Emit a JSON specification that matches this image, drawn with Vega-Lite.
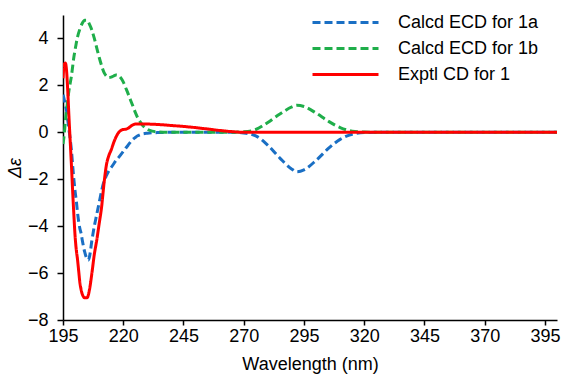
{
  "$schema": "https://vega.github.io/schema/vega-lite/v6.json",
  "width": 494,
  "height": 305,
  "autosize": {"type": "none"},
  "padding": {"left": 63, "top": 15, "right": 4, "bottom": 55},
  "config": {
    "view": {"stroke": null},
    "font": "Liberation Sans",
    "axis": {
      "labelFont": "Liberation Sans",
      "titleFont": "Liberation Sans",
      "labelFontSize": 18,
      "titleFontSize": 18,
      "titleFontWeight": "normal",
      "labelColor": "#000000",
      "titleColor": "#000000",
      "domainColor": "#000000",
      "domainWidth": 1.5,
      "tickColor": "#000000",
      "tickWidth": 1.5,
      "grid": false
    },
    "legend": {"labelFont": "Liberation Sans", "labelFontSize": 18, "labelColor": "#000000"}
  },
  "datasets": {
    "curves": [
      {"series": "Calcd ECD for 1a", "wl": 195, "de": 1.6},
      {"series": "Calcd ECD for 1a", "wl": 195.5, "de": 1.4},
      {"series": "Calcd ECD for 1a", "wl": 196, "de": 1.15},
      {"series": "Calcd ECD for 1a", "wl": 196.5, "de": 0.9},
      {"series": "Calcd ECD for 1a", "wl": 197, "de": 0.5},
      {"series": "Calcd ECD for 1a", "wl": 197.5, "de": 0.1},
      {"series": "Calcd ECD for 1a", "wl": 198, "de": -0.3},
      {"series": "Calcd ECD for 1a", "wl": 198.5, "de": -0.76},
      {"series": "Calcd ECD for 1a", "wl": 199, "de": -1.4},
      {"series": "Calcd ECD for 1a", "wl": 199.5, "de": -2.0},
      {"series": "Calcd ECD for 1a", "wl": 200, "de": -2.5},
      {"series": "Calcd ECD for 1a", "wl": 200.5, "de": -2.9},
      {"series": "Calcd ECD for 1a", "wl": 201, "de": -3.4},
      {"series": "Calcd ECD for 1a", "wl": 201.5, "de": -3.8},
      {"series": "Calcd ECD for 1a", "wl": 202, "de": -4.1},
      {"series": "Calcd ECD for 1a", "wl": 202.5, "de": -4.3},
      {"series": "Calcd ECD for 1a", "wl": 203, "de": -4.6},
      {"series": "Calcd ECD for 1a", "wl": 204, "de": -5.1},
      {"series": "Calcd ECD for 1a", "wl": 205, "de": -5.4},
      {"series": "Calcd ECD for 1a", "wl": 205.5, "de": -5.45},
      {"series": "Calcd ECD for 1a", "wl": 206, "de": -5.3},
      {"series": "Calcd ECD for 1a", "wl": 207, "de": -4.6},
      {"series": "Calcd ECD for 1a", "wl": 208, "de": -4.0},
      {"series": "Calcd ECD for 1a", "wl": 209, "de": -3.5},
      {"series": "Calcd ECD for 1a", "wl": 210, "de": -3.0},
      {"series": "Calcd ECD for 1a", "wl": 211, "de": -2.5},
      {"series": "Calcd ECD for 1a", "wl": 212, "de": -2.1},
      {"series": "Calcd ECD for 1a", "wl": 213, "de": -1.85},
      {"series": "Calcd ECD for 1a", "wl": 214, "de": -1.65},
      {"series": "Calcd ECD for 1a", "wl": 215, "de": -1.5},
      {"series": "Calcd ECD for 1a", "wl": 216, "de": -1.35},
      {"series": "Calcd ECD for 1a", "wl": 217, "de": -1.2},
      {"series": "Calcd ECD for 1a", "wl": 218, "de": -1.08},
      {"series": "Calcd ECD for 1a", "wl": 219, "de": -0.95},
      {"series": "Calcd ECD for 1a", "wl": 220, "de": -0.82},
      {"series": "Calcd ECD for 1a", "wl": 221, "de": -0.68},
      {"series": "Calcd ECD for 1a", "wl": 222, "de": -0.55},
      {"series": "Calcd ECD for 1a", "wl": 223, "de": -0.42},
      {"series": "Calcd ECD for 1a", "wl": 224, "de": -0.3},
      {"series": "Calcd ECD for 1a", "wl": 225, "de": -0.22},
      {"series": "Calcd ECD for 1a", "wl": 226, "de": -0.15},
      {"series": "Calcd ECD for 1a", "wl": 227, "de": -0.1},
      {"series": "Calcd ECD for 1a", "wl": 228, "de": -0.07},
      {"series": "Calcd ECD for 1a", "wl": 230, "de": -0.04},
      {"series": "Calcd ECD for 1a", "wl": 235, "de": -0.01},
      {"series": "Calcd ECD for 1a", "wl": 240, "de": 0},
      {"series": "Calcd ECD for 1a", "wl": 265, "de": 0},
      {"series": "Calcd ECD for 1a", "wl": 270, "de": -0.03},
      {"series": "Calcd ECD for 1a", "wl": 275, "de": -0.15},
      {"series": "Calcd ECD for 1a", "wl": 280, "de": -0.55},
      {"series": "Calcd ECD for 1a", "wl": 285, "de": -1.1},
      {"series": "Calcd ECD for 1a", "wl": 290, "de": -1.57},
      {"series": "Calcd ECD for 1a", "wl": 292, "de": -1.68},
      {"series": "Calcd ECD for 1a", "wl": 295, "de": -1.6},
      {"series": "Calcd ECD for 1a", "wl": 300, "de": -1.2},
      {"series": "Calcd ECD for 1a", "wl": 305, "de": -0.7},
      {"series": "Calcd ECD for 1a", "wl": 310, "de": -0.3},
      {"series": "Calcd ECD for 1a", "wl": 315, "de": -0.08},
      {"series": "Calcd ECD for 1a", "wl": 320, "de": -0.01},
      {"series": "Calcd ECD for 1a", "wl": 325, "de": 0},
      {"series": "Calcd ECD for 1a", "wl": 400, "de": 0},

      {"series": "Calcd ECD for 1b", "wl": 195, "de": -0.5},
      {"series": "Calcd ECD for 1b", "wl": 195.5, "de": -0.1},
      {"series": "Calcd ECD for 1b", "wl": 196, "de": 0.5},
      {"series": "Calcd ECD for 1b", "wl": 196.5, "de": 0.95},
      {"series": "Calcd ECD for 1b", "wl": 197, "de": 1.4},
      {"series": "Calcd ECD for 1b", "wl": 197.5, "de": 1.8},
      {"series": "Calcd ECD for 1b", "wl": 198, "de": 2.1},
      {"series": "Calcd ECD for 1b", "wl": 198.5, "de": 2.4},
      {"series": "Calcd ECD for 1b", "wl": 199, "de": 2.8},
      {"series": "Calcd ECD for 1b", "wl": 199.5, "de": 3.2},
      {"series": "Calcd ECD for 1b", "wl": 200, "de": 3.5},
      {"series": "Calcd ECD for 1b", "wl": 200.5, "de": 3.8},
      {"series": "Calcd ECD for 1b", "wl": 201, "de": 4.05},
      {"series": "Calcd ECD for 1b", "wl": 202, "de": 4.4},
      {"series": "Calcd ECD for 1b", "wl": 203, "de": 4.65},
      {"series": "Calcd ECD for 1b", "wl": 204, "de": 4.78},
      {"series": "Calcd ECD for 1b", "wl": 205, "de": 4.78},
      {"series": "Calcd ECD for 1b", "wl": 206, "de": 4.6},
      {"series": "Calcd ECD for 1b", "wl": 207, "de": 4.35},
      {"series": "Calcd ECD for 1b", "wl": 208, "de": 4.0},
      {"series": "Calcd ECD for 1b", "wl": 209, "de": 3.6},
      {"series": "Calcd ECD for 1b", "wl": 210, "de": 3.2},
      {"series": "Calcd ECD for 1b", "wl": 211, "de": 2.85},
      {"series": "Calcd ECD for 1b", "wl": 212, "de": 2.55},
      {"series": "Calcd ECD for 1b", "wl": 213, "de": 2.4},
      {"series": "Calcd ECD for 1b", "wl": 214, "de": 2.33},
      {"series": "Calcd ECD for 1b", "wl": 215, "de": 2.35},
      {"series": "Calcd ECD for 1b", "wl": 216, "de": 2.4},
      {"series": "Calcd ECD for 1b", "wl": 217, "de": 2.44},
      {"series": "Calcd ECD for 1b", "wl": 218, "de": 2.42},
      {"series": "Calcd ECD for 1b", "wl": 219, "de": 2.32},
      {"series": "Calcd ECD for 1b", "wl": 220, "de": 2.15},
      {"series": "Calcd ECD for 1b", "wl": 221, "de": 1.9},
      {"series": "Calcd ECD for 1b", "wl": 222, "de": 1.65},
      {"series": "Calcd ECD for 1b", "wl": 223, "de": 1.38},
      {"series": "Calcd ECD for 1b", "wl": 224, "de": 1.12},
      {"series": "Calcd ECD for 1b", "wl": 225, "de": 0.85},
      {"series": "Calcd ECD for 1b", "wl": 226, "de": 0.62},
      {"series": "Calcd ECD for 1b", "wl": 227, "de": 0.45},
      {"series": "Calcd ECD for 1b", "wl": 228, "de": 0.3},
      {"series": "Calcd ECD for 1b", "wl": 229, "de": 0.2},
      {"series": "Calcd ECD for 1b", "wl": 230, "de": 0.13},
      {"series": "Calcd ECD for 1b", "wl": 232, "de": 0.05},
      {"series": "Calcd ECD for 1b", "wl": 235, "de": 0.01},
      {"series": "Calcd ECD for 1b", "wl": 240, "de": 0},
      {"series": "Calcd ECD for 1b", "wl": 265, "de": 0},
      {"series": "Calcd ECD for 1b", "wl": 270, "de": 0.02},
      {"series": "Calcd ECD for 1b", "wl": 275, "de": 0.12},
      {"series": "Calcd ECD for 1b", "wl": 280, "de": 0.42},
      {"series": "Calcd ECD for 1b", "wl": 285, "de": 0.78},
      {"series": "Calcd ECD for 1b", "wl": 290, "de": 1.08},
      {"series": "Calcd ECD for 1b", "wl": 292, "de": 1.15},
      {"series": "Calcd ECD for 1b", "wl": 295, "de": 1.1},
      {"series": "Calcd ECD for 1b", "wl": 300, "de": 0.82},
      {"series": "Calcd ECD for 1b", "wl": 305, "de": 0.48},
      {"series": "Calcd ECD for 1b", "wl": 310, "de": 0.2},
      {"series": "Calcd ECD for 1b", "wl": 315, "de": 0.05},
      {"series": "Calcd ECD for 1b", "wl": 320, "de": 0.01},
      {"series": "Calcd ECD for 1b", "wl": 325, "de": 0},
      {"series": "Calcd ECD for 1b", "wl": 400, "de": 0},

      {"series": "Exptl CD for 1", "wl": 195, "de": 2.3},
      {"series": "Exptl CD for 1", "wl": 195.5, "de": 2.9},
      {"series": "Exptl CD for 1", "wl": 196, "de": 2.95},
      {"series": "Exptl CD for 1", "wl": 196.5, "de": 2.6},
      {"series": "Exptl CD for 1", "wl": 197, "de": 1.7},
      {"series": "Exptl CD for 1", "wl": 197.5, "de": 0.6},
      {"series": "Exptl CD for 1", "wl": 198, "de": -0.4},
      {"series": "Exptl CD for 1", "wl": 198.5, "de": -1.4},
      {"series": "Exptl CD for 1", "wl": 199, "de": -2.5},
      {"series": "Exptl CD for 1", "wl": 199.5, "de": -3.5},
      {"series": "Exptl CD for 1", "wl": 200, "de": -4.4},
      {"series": "Exptl CD for 1", "wl": 200.5, "de": -5.0},
      {"series": "Exptl CD for 1", "wl": 201, "de": -5.4},
      {"series": "Exptl CD for 1", "wl": 201.5, "de": -5.9},
      {"series": "Exptl CD for 1", "wl": 202, "de": -6.4},
      {"series": "Exptl CD for 1", "wl": 202.5, "de": -6.7},
      {"series": "Exptl CD for 1", "wl": 203, "de": -6.9},
      {"series": "Exptl CD for 1", "wl": 204, "de": -7.05},
      {"series": "Exptl CD for 1", "wl": 205, "de": -7.05},
      {"series": "Exptl CD for 1", "wl": 206, "de": -6.7},
      {"series": "Exptl CD for 1", "wl": 207, "de": -6.0},
      {"series": "Exptl CD for 1", "wl": 208, "de": -5.2},
      {"series": "Exptl CD for 1", "wl": 209, "de": -4.6},
      {"series": "Exptl CD for 1", "wl": 210, "de": -3.9},
      {"series": "Exptl CD for 1", "wl": 211, "de": -3.2},
      {"series": "Exptl CD for 1", "wl": 212, "de": -2.2},
      {"series": "Exptl CD for 1", "wl": 213, "de": -1.4},
      {"series": "Exptl CD for 1", "wl": 214, "de": -1.0},
      {"series": "Exptl CD for 1", "wl": 215, "de": -0.75},
      {"series": "Exptl CD for 1", "wl": 216, "de": -0.45},
      {"series": "Exptl CD for 1", "wl": 217, "de": -0.2},
      {"series": "Exptl CD for 1", "wl": 218, "de": -0.02},
      {"series": "Exptl CD for 1", "wl": 219, "de": 0.08},
      {"series": "Exptl CD for 1", "wl": 220, "de": 0.12},
      {"series": "Exptl CD for 1", "wl": 221, "de": 0.13},
      {"series": "Exptl CD for 1", "wl": 222, "de": 0.17},
      {"series": "Exptl CD for 1", "wl": 223, "de": 0.25},
      {"series": "Exptl CD for 1", "wl": 224, "de": 0.32},
      {"series": "Exptl CD for 1", "wl": 225, "de": 0.35},
      {"series": "Exptl CD for 1", "wl": 230, "de": 0.35},
      {"series": "Exptl CD for 1", "wl": 235, "de": 0.33},
      {"series": "Exptl CD for 1", "wl": 240, "de": 0.29},
      {"series": "Exptl CD for 1", "wl": 245, "de": 0.25},
      {"series": "Exptl CD for 1", "wl": 250, "de": 0.2},
      {"series": "Exptl CD for 1", "wl": 255, "de": 0.14},
      {"series": "Exptl CD for 1", "wl": 260, "de": 0.08},
      {"series": "Exptl CD for 1", "wl": 265, "de": 0.03},
      {"series": "Exptl CD for 1", "wl": 270, "de": 0},
      {"series": "Exptl CD for 1", "wl": 300, "de": 0},
      {"series": "Exptl CD for 1", "wl": 400, "de": 0}
    ]
  },
  "layer": [
    {
      "mark": {"type": "rule", "color": "#d9d9d9", "strokeWidth": 2},
      "encoding": {"y": {"datum": 0, "type": "quantitative"}}
    },
    {
      "data": {"name": "curves"},
      "mark": {"type": "line", "strokeWidth": 3, "interpolate": "monotone", "clip": true},
      "encoding": {
        "x": {
          "field": "wl",
          "type": "quantitative",
          "scale": {"domain": [195, 400], "nice": false, "zero": false},
          "axis": {
            "title": "Wavelength (nm)",
            "values": [195, 220, 245, 270, 295, 320, 345, 370, 395],
            "tickSize": 5,
            "labelPadding": 2,
            "titlePadding": 10,
            "labelFlush": false
          }
        },
        "y": {
          "field": "de",
          "type": "quantitative",
          "scale": {"domain": [-8, 5], "nice": false},
          "axis": {
            "title": "Δε",
            "titleFontStyle": "italic",
            "values": [-8, -6, -4, -2, 0, 2, 4],
            "tickSize": 6,
            "labelPadding": 9,
            "titlePadding": 3,
            "labelFlush": false
          }
        },
        "color": {
          "field": "series",
          "type": "nominal",
          "scale": {
            "domain": ["Calcd ECD for 1a", "Calcd ECD for 1b", "Exptl CD for 1"],
            "range": ["#1a6fc4", "#1fae4a", "#ff0000"]
          },
          "legend": {
            "title": null,
            "orient": "none",
            "legendX": 270,
            "legendY": -5,
            "padding": 0,
            "symbolType": "M-3,0H3",
            "symbolSize": 484,
            "symbolStrokeWidth": 3,
            "labelOffset": 40,
            "rowPadding": 4
          }
        },
        "strokeDash": {
          "field": "series",
          "type": "nominal",
          "scale": {
            "domain": ["Calcd ECD for 1a", "Calcd ECD for 1b", "Exptl CD for 1"],
            "range": [[8, 4], [8, 4], [1, 0]]
          },
          "legend": null
        },
        "order": {"field": "wl", "type": "quantitative"}
      }
    }
  ]
}
